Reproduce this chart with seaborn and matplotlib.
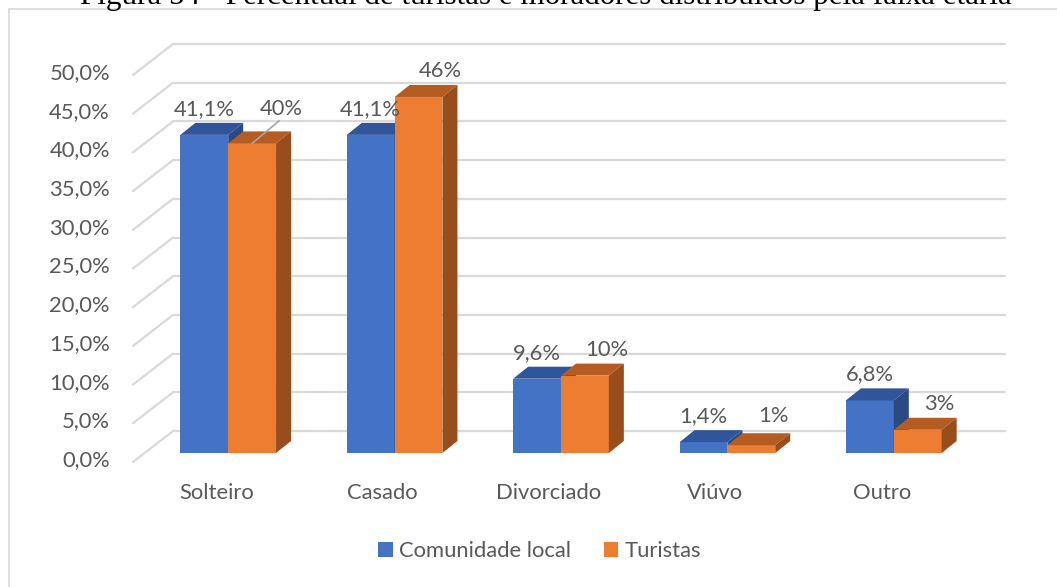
import numpy as np
import pandas as pd
import matplotlib
matplotlib.use("Agg")
import matplotlib.pyplot as plt
from matplotlib.patches import Polygon, Rectangle
from matplotlib.lines import Line2D
import seaborn as sns

# ---- data -------------------------------------------------------------
categorias = ["Solteiro", "Casado", "Divorciado", "Viúvo", "Outro"]
series = ["Comunidade local", "Turistas"]
comunidade_local = [41.1, 41.1, 9.6, 1.4, 6.8]
turistas = [40, 46, 10, 1, 3]
ticks_y = [0, 5, 10, 15, 20, 25, 30, 35, 40, 45, 50]
ticks_y_labels = ["0,0%", "5,0%", "10,0%", "15,0%", "20,0%", "25,0%",
                  "30,0%", "35,0%", "40,0%", "45,0%", "50,0%"]
titulo = "Figura 54 - Percentual de turistas e moradores distribuídos pela faixa etária"

# ---- style ------------------------------------------------------------
sns.set_theme(style="white")
plt.rcParams["font.family"] = ["Lato", "DejaVu Sans"]
TXT = "#595959"
GRID = "#D9D9D9"
FS = 15.8
front_cols = ["#4472C4", "#ED7D31"]
top_cols = ["#30559A", "#B45C22"]
side_cols = ["#2A4A82", "#984D1C"]

W, H, DPI = 1057, 587, 100
fig = plt.figure(figsize=(W / DPI, H / DPI), dpi=DPI)
fig.patch.set_facecolor("white")

# plot area (front plane of the bars), in pixels
L, R, B, T = 145, 977, 453, 66
ax = fig.add_axes([L / W, (H - B) / H, (R - L) / W, (B - T) / H])

df = pd.DataFrame({
    "Estado": categorias * 2,
    "Grupo": [series[0]] * len(categorias) + [series[1]] * len(categorias),
    "Valor": comunidade_local + turistas,
})
sns.barplot(data=df, x="Estado", y="Valor", hue="Grupo", order=categorias,
            hue_order=series, palette=front_cols, saturation=1, width=0.575,
            linewidth=0, ax=ax, zorder=3)
ax.set_xlim(-0.5, len(categorias) - 0.5)
ax.set_ylim(0, 50)

# pixel -> data conversions for the pseudo-3D depth
px_x = (len(categorias)) / (R - L)
px_y = 50 / (B - T)
def dpx(dx, dy):
    return dx * px_x, dy * px_y

bar_dx, bar_dy = dpx(15, 12)     # depth of each bar
wall_dx, wall_dy = dpx(28, 22)   # back wall relative to bar fronts
edge_dx, edge_dy = dpx(-12, -9)  # front edge of the floor

x_lo, x_hi = -0.5, len(categorias) - 0.5

# back wall gridlines and the left-side diagonals
for v in ticks_y:
    ax.add_line(Line2D([x_lo + wall_dx, x_hi + wall_dx], [v + wall_dy, v + wall_dy],
                       color=GRID, lw=1.6, zorder=1, clip_on=False))
    ax.add_line(Line2D([x_lo + edge_dx, x_lo + wall_dx], [v + edge_dy, v + wall_dy],
                       color=GRID, lw=1.6, zorder=1, clip_on=False))

# y tick labels on the front edge
lab_dx, lab_dy = dpx(-23, 2)
for v, s in zip(ticks_y, ticks_y_labels):
    ax.text(x_lo + edge_dx + lab_dx, v + edge_dy + lab_dy, s, ha="right", va="center",
            fontsize=FS, color=TXT, clip_on=False)

# category labels below the floor
cat_dx, cat_dy = dpx(-12, -40)
for i, c in enumerate(categorias):
    ax.text(i + cat_dx, cat_dy, c, ha="center", va="center", fontsize=FS,
            color=TXT, clip_on=False)

# top and side faces for each bar
for k, cont in enumerate(ax.containers):
    for bar in cont:
        bar.set_zorder(3 + k)
        x0, w, h = bar.get_x(), bar.get_width(), bar.get_height()
        top = Polygon([(x0, h), (x0 + w, h), (x0 + w + bar_dx, h + bar_dy),
                       (x0 + bar_dx, h + bar_dy)], closed=True,
                      facecolor=top_cols[k], edgecolor="none", zorder=3 + k,
                      clip_on=False)
        side = Polygon([(x0 + w, 0), (x0 + w, h), (x0 + w + bar_dx, h + bar_dy),
                        (x0 + w + bar_dx, bar_dy)], closed=True,
                       facecolor=side_cols[k], edgecolor="none", zorder=3 + k,
                       clip_on=False)
        ax.add_patch(top)
        ax.add_patch(side)

# data labels
_, lab_up = dpx(0, 26)
orange_shift, _ = dpx(22, 0)
blue_bars = ax.containers[0]
orange_bars = ax.containers[1]
for i in range(len(categorias)):
    b = blue_bars[i]
    cb = b.get_x() + b.get_width() / 2
    vb = comunidade_local[i]
    ax.text(cb, vb + lab_up, f"{vb:.1f}%".replace(".", ","), ha="center",
            va="center", fontsize=FS, color=TXT, zorder=6, clip_on=False)

    o = orange_bars[i]
    co = o.get_x() + o.get_width() / 2
    vo = turistas[i]
    y_lab = vo + lab_up
    x_lab = co + orange_shift
    if vo < vb and vb - vo < 2:
        # keep the label level with its neighbour
        y_lab = vb + lab_up
        if vb - vo > 1:
            x_lab = co + dpx(29, 0)[0]
            lx, ly = dpx(-2, -12)
            ax.add_line(Line2D([co, x_lab + lx], [vo, y_lab + ly], color="#A6A6A6",
                               lw=1.2, zorder=6, clip_on=False))
    ax.text(x_lab, y_lab, f"{vo:.0f}%", ha="center", va="center", fontsize=FS,
            color=TXT, zorder=6, clip_on=False)

ax.set_axis_off()

# legend
sns.move_legend(ax, "center", bbox_to_anchor=(540 / W, 1 - 551 / H),
                bbox_transform=fig.transFigure, ncol=2, frameon=False, title=None,
                handlelength=0.65, handleheight=0.65, handletextpad=0.3,
                columnspacing=1.5, fontsize=FS)
for t in ax.get_legend().get_texts():
    t.set_color(TXT)

# chart border
fig.patches.append(Rectangle((9 / W, -0.05), 1.2, 1 - 9 / H + 0.05,
                             transform=fig.transFigure, facecolor="none",
                             edgecolor=GRID, lw=1.2, zorder=0))

# caption line above the chart (only its lower part falls inside the image)
cap = fig.text(546 / W, 1 - 4 / H, titulo, ha="center", va="baseline",
               fontsize=17, family=["Liberation Serif"], color="black")
fig.canvas.draw()
ext = cap.get_window_extent()
cap.set_fontsize(17 * 933 / ext.width)

fig.savefig("out.png", dpi=DPI, facecolor="white")
